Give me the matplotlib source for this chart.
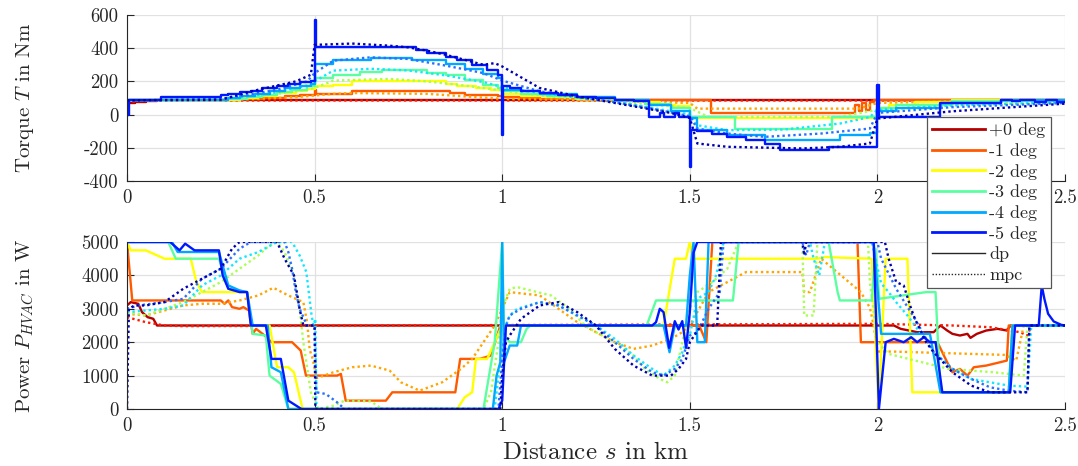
import matplotlib
matplotlib.use("Agg")
import matplotlib.pyplot as plt
from matplotlib.lines import Line2D

# ---------------- data ----------------
angles = ['+0 deg', '-1 deg', '-2 deg', '-3 deg', '-4 deg', '-5 deg']
dp_colors = ['#b40000', '#ff5a00', '#ffff00', '#5cffa0', '#00a8ff', '#0018ff']
mpc_colors = ['#ff1a00', '#ffa500', '#a8ff50', '#10e8ff', '#2a70ff', '#0000b0']

x_ticks = [0, 0.5, 1, 1.5, 2, 2.5]
x_ticklabels = ['0', '0.5', '1', '1.5', '2', '2.5']
torque_ticks = [-400, -200, 0, 200, 400, 600]
power_ticks = [0, 1000, 2000, 3000, 4000, 5000]

# torque, dp (stair steps)
T_dp_0_x = [0, 0.02, 0.05, 0.08, 2.05, 2.15, 2.5]
T_dp_0_y = [70, 75, 80, 85, 85, 88, 88]
T_dp_1_x = [0, 0.25, 0.3, 0.36, 0.42, 0.46, 0.5, 0.505, 0.6, 0.86, 0.9, 0.99, 1.0, 1.05, 1.1, 1.2, 1.3,
            1.5, 1.556, 1.94, 1.95, 1.96, 1.97, 1.98, 1.99, 2.5]
T_dp_1_y = [85, 90, 95, 100, 110, 120, 150, 125, 145, 130, 120, 110, 105, 100, 95, 88, 85,
            85, 8, 60, 20, 70, 25, 75, 85, 85]
T_dp_2_x = [0, 0.25, 0.3, 0.35, 0.4, 0.45, 0.48, 0.5, 0.55, 0.6, 0.85, 0.88, 0.93, 0.97, 1.0, 1.05, 1.12,
            1.2, 1.3, 1.38, 1.42, 1.46, 1.5, 2.0, 2.03, 2.1, 2.2, 2.5]
T_dp_2_y = [85, 90, 100, 115, 130, 145, 155, 175, 180, 200, 185, 170, 160, 150, 125, 115, 105,
            95, 87, 75, 60, 50, -18, 40, 60, 75, 85, 85]
T_dp_3_x = [0, 0.27, 0.32, 0.36, 0.4, 0.44, 0.48, 0.5, 0.55, 0.62, 0.68, 0.8, 0.85, 0.9, 0.95, 0.99, 1.0,
            1.05, 1.12, 1.2, 1.3, 1.38, 1.45, 1.5, 1.62, 1.88, 2.0, 2.05, 2.2, 2.5]
T_dp_3_y = [85, 95, 105, 120, 135, 150, 170, 220, 236, 256, 266, 250, 236, 206, 176, 160, 140,
            125, 110, 97, 88, 65, 40, -14, -84, -14, 40, 60, 80, 80]
T_dp_4_x = [0, 0.27, 0.3, 0.34, 0.38, 0.42, 0.46, 0.49, 0.5, 0.55, 0.65, 0.76, 0.85, 0.9, 0.95, 0.99, 1.0,
            1.05, 1.1, 1.2, 1.3, 1.39, 1.45, 1.5, 1.52, 1.6, 1.7, 1.9, 1.98, 2.0, 2.05, 2.17, 2.33, 2.5]
T_dp_4_y = [85, 100, 110, 125, 140, 160, 175, 185, 306, 326, 342, 330, 306, 276, 246, 222, 150,
            140, 125, 105, 90, 60, 20, -20, -94, -124, -154, -124, -110, 20, 40, 70, 85, 85]
T_dp_5_x = [0, 0.005, 0.09, 0.25, 0.27, 0.3, 0.33, 0.36, 0.4, 0.43, 0.46, 0.49, 0.5, 0.503, 0.77, 0.8,
            0.85, 0.88, 0.92, 0.96, 0.99, 1.0, 1.003, 1.02, 1.05, 1.1, 1.15, 1.2, 1.25, 1.3, 1.35, 1.39,
            1.42, 1.43, 1.46, 1.47, 1.5, 1.503, 1.52, 1.56, 1.6, 1.65, 1.7, 1.74, 1.87, 1.998, 2.003,
            2.167, 2.33, 2.36, 2.38, 2.42, 2.45, 2.48, 2.5]
T_dp_5_y = [0, 88, 105, 120, 125, 135, 145, 160, 175, 185, 195, 205, 570, 408, 390, 370,
            350, 330, 300, 270, 240, -120, 175, 160, 145, 130, 118, 108, 98, 90, 80, -15,
            10, -15, 12, -15, -316, -90, -100, -114, -136, -156, -176, -215, -196, 180, -12,
            68, 88, 80, 90, 78, 88, 75, 75]

# torque, mpc
T_mpc_0_x = [0, 0.05, 2.5]
T_mpc_0_y = [75, 85, 85]
T_mpc_1_x = [0, 0.25, 0.35, 0.45, 0.5, 0.55, 0.6, 0.8, 0.9, 1.0, 1.1, 1.3, 1.4, 1.5, 1.52, 1.95, 2.0, 2.2, 2.5]
T_mpc_1_y = [85, 88, 95, 105, 115, 125, 130, 125, 110, 95, 92, 85, 75, 70, 36, 36, 70, 80, 85]
T_mpc_2_x = [0, 0.25, 0.3, 0.4, 0.48, 0.5, 0.55, 0.7, 0.8, 0.9, 1.0, 1.1, 1.2, 1.3, 1.4, 1.5, 1.55, 1.9,
             2.0, 2.2, 2.5]
T_mpc_2_y = [85, 90, 100, 125, 150, 160, 205, 215, 200, 175, 145, 115, 95, 80, 60, 40, -14, -14,
             30, 60, 80]
T_mpc_3_x = [0, 0.25, 0.3, 0.4, 0.48, 0.5, 0.55, 0.65, 0.75, 0.85, 0.95, 1.0, 1.1, 1.2, 1.3, 1.4, 1.5,
             1.52, 1.6, 1.75, 1.9, 1.98, 2.0, 2.2, 2.5]
T_mpc_3_y = [85, 92, 105, 135, 175, 200, 265, 276, 266, 236, 196, 166, 130, 105, 80, 40, 0,
             -64, -94, -90, -54, -15, 30, 55, 75]
T_mpc_4_x = [0, 0.25, 0.3, 0.4, 0.48, 0.5, 0.55, 0.65, 0.75, 0.85, 0.95, 1.0, 1.1, 1.2, 1.3, 1.4, 1.5,
             1.52, 1.6, 1.7, 1.85, 1.98, 2.0, 2.2, 2.5]
T_mpc_4_y = [85, 95, 110, 150, 200, 250, 325, 345, 335, 295, 250, 205, 140, 105, 75, 35, -10,
             -84, -114, -134, -114, -84, 10, 45, 70]
T_mpc_5_x = [0, 0.25, 0.3, 0.35, 0.4, 0.45, 0.49, 0.5, 0.6, 0.7, 0.75, 0.8, 0.85, 0.9, 0.95, 0.98, 1.0,
             1.1, 1.2, 1.3, 1.4, 1.45, 1.5, 1.52, 1.6, 1.8, 1.9, 1.98, 2.0, 2.2, 2.5]
T_mpc_5_y = [85, 90, 120, 150, 175, 200, 240, 420, 428, 415, 405, 385, 360, 330, 300, 310, 290,
             160, 110, 70, 30, 10, -20, -174, -194, -204, -194, -174, -24, 20, 66]

# HVAC power, dp
P_dp_0_x = [0, 0.01, 0.03, 0.04, 0.055, 0.07, 0.08, 2.044, 2.062, 2.106, 2.15, 2.168, 2.186, 2.2, 2.22,
            2.24, 2.248, 2.265, 2.29, 2.32, 2.345, 2.355, 2.5]
P_dp_0_y = [3100, 3200, 3150, 2900, 2750, 2700, 2500, 2500, 2400, 2300, 2300, 2500, 2350, 2250, 2200,
            2250, 2130, 2250, 2350, 2400, 2350, 2500, 2500]
P_dp_1_x = [0, 0.014, 0.25, 0.26, 0.27, 0.28, 0.3, 0.31, 0.325, 0.335, 0.344, 0.367, 0.385, 0.44, 0.463,
            0.477, 0.56, 0.57, 0.583, 0.69, 0.707, 0.875, 0.888, 0.94, 0.97, 0.995, 1.525, 1.544, 1.56,
            1.947, 1.956, 2.16, 2.186, 2.2, 2.22, 2.24, 2.257, 2.29, 2.327, 2.345, 2.35, 2.5]
P_dp_1_y = [5000, 3250, 3250, 3150, 3250, 3050, 3000, 3050, 2950, 2250, 2400, 2200, 2000, 2000, 1750,
            1000, 1000, 1050, 250, 250, 500, 500, 1500, 1500, 1600, 2500, 2500, 2000, 5000,
            5000, 2000, 2000, 1400, 1100, 1200, 1000, 1250, 1300, 1400, 1450, 2500, 2500]
P_dp_2_x = [0, 0.01, 0.05, 0.08, 0.1, 0.17, 0.185, 0.2, 0.32, 0.33, 0.38, 0.4, 0.43, 0.445, 0.468, 0.88,
            0.9, 0.92, 0.93, 0.96, 0.98, 1.0, 1.43, 1.46, 1.49, 1.5, 1.51, 1.84, 1.86, 1.985, 2.003,
            2.022, 2.08, 2.093, 2.35, 2.36, 2.5]
P_dp_2_y = [5000, 4750, 4750, 4600, 4500, 4500, 3800, 3500, 3500, 2500, 2500, 1250, 1250, 1100, 0, 0,
            350, 500, 1500, 1500, 2000, 2500, 2500, 4500, 4500, 5000, 4500, 4500, 4550, 4500, 0,
            4500, 4500, 500, 500, 2500, 2500]
P_dp_3_x = [0, 0.11, 0.13, 0.245, 0.27, 0.32, 0.335, 0.37, 0.38, 0.41, 0.43, 0.95, 0.98, 1.0, 1.005,
            1.02, 1.05, 1.065, 1.075, 1.385, 1.41, 1.615, 1.63, 1.87, 1.894, 1.9, 1.985, 1.995, 2.005,
            2.13, 2.155, 2.168, 2.35, 2.36, 2.5]
P_dp_3_y = [5000, 5000, 4500, 4500, 3600, 3500, 2250, 2200, 1000, 750, 0, 0, 2000, 5000, 2200,
            2000, 2000, 2400, 2500, 2500, 3250, 3250, 5000, 5000, 3500, 3250, 3250, 4800, 3300,
            3500, 3500, 500, 500, 2500, 2500]
P_dp_4_x = [0, 0.12, 0.135, 0.245, 0.27, 0.3, 0.32, 0.335, 0.375, 0.385, 0.41, 0.43, 0.975, 0.985, 0.995,
            1.0, 1.005, 1.02, 1.04, 1.05, 1.43, 1.446, 1.46, 1.49, 1.5, 1.51, 1.52, 1.54, 1.55, 1.99,
            2.01, 2.14, 2.168, 2.35, 2.36, 2.5]
P_dp_4_y = [5000, 5000, 4700, 4700, 3700, 3550, 3500, 2500, 2500, 1250, 1100, 0, 0, 1000, 1400,
            5000, 1400, 1900, 1900, 2500, 2500, 1700, 2500, 2500, 4000, 5000, 2000, 2000, 5000, 5000,
            2250, 2250, 500, 500, 2500, 2500]
P_dp_5_x = [0, 0.115, 0.14, 0.155, 0.18, 0.245, 0.255, 0.27, 0.3, 0.32, 0.33, 0.37, 0.385, 0.41, 0.43,
            0.465, 0.99, 1.0, 1.01, 1.4, 1.41, 1.42, 1.43, 1.445, 1.46, 1.47, 1.48, 1.49, 1.5, 1.51, 1.52,
            1.99, 2.004, 2.022, 2.044, 2.07, 2.09, 2.106, 2.124, 2.14, 2.155, 2.173, 2.354, 2.367, 2.43,
            2.438, 2.445, 2.455, 2.47, 2.49, 2.5]
P_dp_5_y = [5000, 5000, 4750, 4950, 4750, 4750, 4000, 3600, 3500, 3500, 2500, 2500, 1500, 1500, 250,
            0, 0, 250, 2500, 2500, 2600, 3000, 2900, 1830, 2630, 2380, 2630, 1830, 2900, 4680, 5000,
            5000, 0, 2000, 2100, 2000, 2150, 2000, 2150, 2000, 2000, 500, 500, 2500, 2500,
            3700, 3300, 2850, 2620, 2520, 2500]

# HVAC power, mpc
P_mpc_0_x = [0, 0.05, 0.1, 0.15, 2.0, 2.2, 2.3, 2.38, 2.4, 2.41, 2.5]
P_mpc_0_y = [2750, 2600, 2500, 2480, 2550, 2500, 2450, 2300, 2200, 2500, 2500]
P_mpc_1_x = [0, 0.05, 0.1, 0.15, 0.2, 0.25, 0.3, 0.35, 0.39, 0.43, 0.47, 0.48, 0.487, 0.495, 0.505, 0.55,
             0.6, 0.65, 0.7, 0.73, 0.78, 0.84, 0.89, 0.92, 0.95, 0.98, 1.0, 1.02, 1.1, 1.15, 1.2, 1.25,
             1.3, 1.35, 1.4, 1.45, 1.48, 1.5, 1.55, 1.6, 1.65, 1.8, 1.805, 1.82, 1.85, 1.956, 1.98,
             1.99, 2.0, 2.04, 2.34, 2.37, 2.39, 2.5]
P_mpc_1_y = [2850, 2800, 2950, 3100, 3150, 3150, 3250, 3400, 3630, 3400, 3200, 2600, 1770, 1500, 920,
             1100, 1250, 1300, 1150, 800, 550, 800, 1200, 1500, 2000, 2500, 3000, 3500, 3400, 3000,
             2600, 2300, 2000, 1800, 1900, 2100, 2300, 2500, 3500, 3800, 4100, 4100, 3500, 3500,
             4500, 3500, 3030, 2500, 1720, 1720, 1620, 1450, 2500, 2500]
P_mpc_2_x = [0, 0.05, 0.1, 0.15, 0.2, 0.25, 0.3, 0.35, 0.38, 0.4, 0.42, 0.445, 0.46, 0.47, 0.49, 0.51,
             0.55, 0.58, 0.65, 0.68, 0.95, 0.97, 0.99, 1.0, 1.02, 1.04, 1.13, 1.18, 1.22, 1.25, 1.3,
             1.35, 1.38, 1.42, 1.44, 1.46, 1.48, 1.5, 1.52, 1.56, 1.6, 1.63, 1.8, 1.805, 1.83, 1.84,
             1.975, 1.98, 2.0, 2.03, 2.19, 2.31, 2.39, 2.4, 2.5]
P_mpc_2_y = [2900, 2800, 3000, 3200, 3500, 3800, 4200, 4600, 4900, 5000, 4700, 4000, 3000, 2000, 500,
             0, 100, 250, 230, 0, 0, 500, 2000, 3000, 3600, 3650, 3400, 3000, 2500, 2300, 2000,
             1600, 1200, 900, 800, 1000, 2000, 3000, 3500, 3800, 4200, 5000, 5000, 2800, 2800, 5000,
             5000, 3800, 2000, 1650, 1200, 1100, 1000, 2500, 2500]
P_mpc_3_x = [0, 0.05, 0.1, 0.15, 0.2, 0.25, 0.3, 0.35, 0.4, 0.44, 0.46, 0.478, 0.492, 0.497, 0.502,
             0.505, 0.98, 0.99, 1.01, 1.02, 1.04, 1.1, 1.15, 1.2, 1.25, 1.3, 1.35, 1.4, 1.43, 1.46,
             1.48, 1.49, 1.5, 1.52, 1.55, 1.57, 1.59, 1.82, 1.83, 1.845, 1.86, 1.985, 2.01, 2.03,
             2.05, 2.08, 2.1, 2.15, 2.2, 2.25, 2.3, 2.35, 2.4, 2.41, 2.5]
P_mpc_3_y = [2900, 2950, 3000, 3100, 3700, 4000, 4500, 4700, 5000, 5000, 4600, 4100, 2800, 2500, 2700,
             0, 0, 1000, 2500, 2800, 3000, 3200, 3100, 2800, 2500, 2100, 1600, 1200, 1000, 1300,
             1700, 2000, 2200, 3300, 3500, 4000, 5000, 5000, 4500, 4000, 5000, 5000, 3760, 3500,
             3200, 2800, 2500, 1700, 1200, 900, 800, 700, 670, 2500, 2500]
P_mpc_4_x = [0, 0.03, 0.1, 0.15, 0.2, 0.25, 0.3, 0.33, 0.42, 0.43, 0.44, 0.45, 0.46, 0.48, 0.5, 0.505,
             0.53, 0.56, 0.58, 0.99, 1.0, 1.01, 1.02, 1.05, 1.1, 1.15, 1.2, 1.25, 1.3, 1.35, 1.4, 1.43,
             1.46, 1.48, 1.5, 1.52, 1.55, 1.58, 1.59, 1.8, 1.81, 1.82, 2.0, 2.01, 2.05, 2.1, 2.15, 2.2,
             2.25, 2.3, 2.35, 2.4, 2.405, 2.5]
P_mpc_4_y = [3000, 3100, 3200, 3300, 3900, 4200, 4800, 5000, 5000, 4700, 4200, 3500, 3000, 2500, 2500,
             500, 450, 200, 0, 0, 1500, 2500, 2800, 3000, 3200, 3100, 2800, 2500, 2000, 1500, 1100,
             1000, 1200, 1500, 2200, 2300, 3000, 3500, 5000, 5000, 4600, 5000, 5000, 4500, 3600,
             2700, 1700, 1200, 900, 650, 550, 500, 2500, 2500]
P_mpc_5_x = [0, 0.005, 0.02, 0.05, 0.1, 0.15, 0.2, 0.25, 0.28, 0.3, 0.4, 0.42, 0.445, 0.46, 0.47, 0.5,
             0.502, 0.995, 1.0, 1.01, 1.02, 1.05, 1.1, 1.15, 1.2, 1.25, 1.3, 1.35, 1.4, 1.45, 1.47,
             1.49, 1.5, 1.53, 1.573, 1.583, 1.8, 1.805, 1.81, 2.02, 2.03, 2.05, 2.07, 2.09, 2.1, 2.13,
             2.15, 2.2, 2.25, 2.3, 2.4, 2.405, 2.5]
P_mpc_5_y = [0, 3000, 3100, 3100, 3200, 3600, 3900, 4200, 4800, 5000, 5000, 4500, 4000, 3000, 2500,
             2500, 0, 0, 1000, 2000, 2200, 2700, 3100, 3200, 2900, 2500, 1800, 1300, 1000, 1000,
             1200, 1500, 2000, 2500, 2500, 5000, 5000, 4600, 5000, 5000, 4500, 3800, 3700, 3000,
             2700, 2000, 1700, 1100, 700, 500, 500, 2500, 2500]

T_dp = [(T_dp_0_x, T_dp_0_y), (T_dp_1_x, T_dp_1_y), (T_dp_2_x, T_dp_2_y),
        (T_dp_3_x, T_dp_3_y), (T_dp_4_x, T_dp_4_y), (T_dp_5_x, T_dp_5_y)]
T_mpc = [(T_mpc_0_x, T_mpc_0_y), (T_mpc_1_x, T_mpc_1_y), (T_mpc_2_x, T_mpc_2_y),
         (T_mpc_3_x, T_mpc_3_y), (T_mpc_4_x, T_mpc_4_y), (T_mpc_5_x, T_mpc_5_y)]
P_dp = [(P_dp_0_x, P_dp_0_y), (P_dp_1_x, P_dp_1_y), (P_dp_2_x, P_dp_2_y),
        (P_dp_3_x, P_dp_3_y), (P_dp_4_x, P_dp_4_y), (P_dp_5_x, P_dp_5_y)]
P_mpc = [(P_mpc_0_x, P_mpc_0_y), (P_mpc_1_x, P_mpc_1_y), (P_mpc_2_x, P_mpc_2_y),
         (P_mpc_3_x, P_mpc_3_y), (P_mpc_4_x, P_mpc_4_y), (P_mpc_5_x, P_mpc_5_y)]

# ---------------- style ----------------
plt.rcParams['font.family'] = 'serif'
plt.rcParams['font.serif'] = ['cmr10', 'DejaVu Serif']
plt.rcParams['mathtext.fontset'] = 'cm'
plt.rcParams['axes.unicode_minus'] = False
plt.rcParams['axes.formatter.use_mathtext'] = True

TXT = '#262626'
DOTS = (0, (1, 1.3))
LW = 1.7


def style_axes(ax, yticks, ylim):
    ax.set_xlim(0, 2.5)
    ax.set_ylim(*ylim)
    ax.set_xticks(x_ticks)
    ax.set_xticklabels(x_ticklabels)
    ax.set_yticks(yticks)
    ax.set_yticklabels([str(t) for t in yticks])
    ax.grid(True, color='#e1e1e1', linewidth=0.9)
    ax.set_axisbelow(True)
    for s in ['top', 'right']:
        ax.spines[s].set_visible(False)
    for s in ['left', 'bottom']:
        ax.spines[s].set_color(TXT)
        ax.spines[s].set_linewidth(0.8)
    ax.tick_params(direction='in', length=5, width=0.8, colors=TXT,
                   labelsize=13.5, pad=6)


fig = plt.figure(figsize=(10.78, 4.66), dpi=100)
ax1 = fig.add_axes([127 / 1078, 1 - 181 / 466, 938 / 1078, 166 / 466])
ax2 = fig.add_axes([127 / 1078, 1 - 409 / 466, 938 / 1078, 167 / 466])

for i in range(6):
    ax1.plot(*T_dp[i], color=dp_colors[i], lw=LW, drawstyle='steps-post')
    ax1.plot(*T_mpc[i], color=mpc_colors[i], lw=LW, linestyle=DOTS)
    ax2.plot(*P_dp[i], color=dp_colors[i], lw=LW)
    ax2.plot(*P_mpc[i], color=mpc_colors[i], lw=LW, linestyle=DOTS)

style_axes(ax1, torque_ticks, (-400, 600))
style_axes(ax2, power_ticks, (0, 5000))

ax1.set_ylabel('Torque $T$ in Nm', fontsize=15, color=TXT)
ax2.set_ylabel('Power $P_{HVAC}$ in W', fontsize=15, color=TXT)
ax1.yaxis.set_label_coords(-0.097, 0.5)
ax2.yaxis.set_label_coords(-0.097, 0.5)
ax2.set_xlabel('Distance $s$ in km', fontsize=18, color=TXT, labelpad=5)

handles = [Line2D([], [], color=c, lw=2) for c in dp_colors]
handles.append(Line2D([], [], color=TXT, lw=1))
handles.append(Line2D([], [], color=TXT, lw=1, linestyle=DOTS))
labels = angles + ['dp', 'mpc']
leg = fig.legend(handles, labels, loc='upper left',
                 bbox_to_anchor=(927 / 1078, 1 - 117 / 466),
                 fontsize=13, frameon=True, fancybox=False, framealpha=1,
                 edgecolor='#555555', handlelength=2.9, handletextpad=0.25,
                 labelspacing=0.27, borderpad=0.3, borderaxespad=0)
leg.get_frame().set_linewidth(0.9)
for t in leg.get_texts():
    t.set_color(TXT)

fig.savefig('out.png', dpi=100)
